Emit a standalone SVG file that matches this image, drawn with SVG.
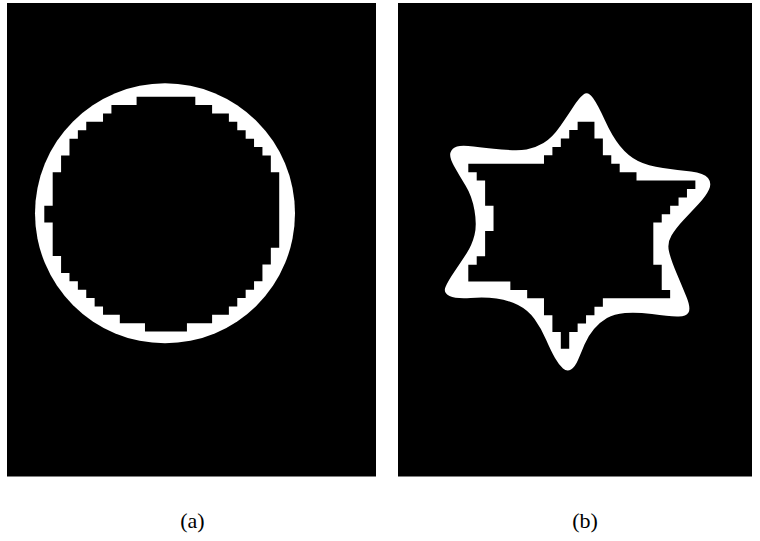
<svg xmlns="http://www.w3.org/2000/svg" width="760" height="541" viewBox="0 0 760 541">
<style>
.panel{fill:#000}
.ring{fill:#fff}
.hole{fill:#000}
.lbl{font-family:"Liberation Serif","DejaVu Serif",serif;font-size:22px;fill:#000;text-anchor:middle}
</style>
<rect width="760" height="541" fill="#fff"/>
<g id="panel-a">
<rect class="panel" x="7" y="3" width="369" height="473.5"/>
<circle class="ring" cx="165" cy="213.3" r="130"/>
<polygon class="hole" transform="translate(44.3,96.7) scale(8.39)" points="11,0 18,0 18,1 20,1 20,2 22,2 22,3 23,3 23,4 24,4 24,5 25,5 25,6 26,6 26,7 27,7 27,9 28,9 28,18 27,18 27,20 26,20 26,22 25,22 25,23 24,23 24,24 23,24 23,25 22,25 22,26 20,26 20,27 17,27 17,28 12,28 12,27 9,27 9,26 7,26 7,25 6,25 6,24 5,24 5,23 4,23 4,22 3,22 3,21 2,21 2,19 1,19 1,15 0,15 0,13 1,13 1,9 2,9 2,7 3,7 3,5 4,5 4,4 5,4 5,3 7,3 7,2 8,2 8,1 11,1"/>
</g>
<g id="panel-b">
<rect class="panel" x="398" y="3" width="354" height="473.5"/>
<path class="ring" d="M583.5,94.5 Q588,91 593,98 Q598,105 605,120.5 Q612,136 620,146 Q628,156 638,161 Q648,166 663,168 Q678,170 691,171.5 Q704,173 708,178 Q712,183 709,189.5 Q706,196 699,203.5 Q692,211 684,219.5 Q676,228 671.5,235.5 Q667,243 669,251.5 Q671,260 676.5,273 Q682,286 686.5,297 Q691,308 688.5,312.5 Q686,317 677,316.5 Q668,316 652,314 Q636,312 625,313 Q614,314 607,318 Q600,322 594,329 Q588,336 584.5,344.5 Q581,353 578,360 Q575,367 571,369.5 Q567,372 563,368.5 Q559,365 555,358 Q551,351 546,339.5 Q541,328 534.5,319 Q528,310 518,305 Q508,300 496.5,298.5 Q485,297 470.5,298 Q456,299 449.5,296 Q443,293 445.5,287 Q448,281 454.5,271.5 Q461,262 466.5,253.5 Q472,245 474.5,235 Q477,225 474.5,210.5 Q472,196 465.5,185.5 Q459,175 454,166 Q449,157 450.5,152.5 Q452,148 457,146.5 Q462,145 473.5,146.5 Q485,148 501.5,149.5 Q518,151 526.5,149.5 Q535,148 543.5,143 Q552,138 560,126.5 Q568,115 573.5,106.5 Q579,98 583.5,94.5 Z"/>
<polygon class="hole" transform="translate(468.3,121.7) scale(8.41)" points="13,0 15,0 15,2 16,2 16,4 17,4 17,5 18,5 18,6 20,6 20,7 27,7 27,8 26,8 26,9 25,9 25,10 24,10 24,11 23,11 23,12 22,12 22,17 23,17 23,20 24,20 24,21 16,21 16,22 15,22 15,23 14,23 14,24 13,24 13,25 12,25 12,27 11,27 11,25 10,25 10,23 9,23 9,21 7,21 7,20 5,20 5,19 0,19 0,17 1,17 1,16 2,16 2,13 3,13 3,10 2,10 2,7 1,7 1,6 0,6 0,5 9,5 9,4 10,4 10,3 11,3 11,2 12,2 12,1 13,1"/>
</g>
<g id="labels">
<text class="lbl" x="192.5" y="528">(a)</text>
<text class="lbl" x="585" y="528">(b)</text>
</g>
</svg>
